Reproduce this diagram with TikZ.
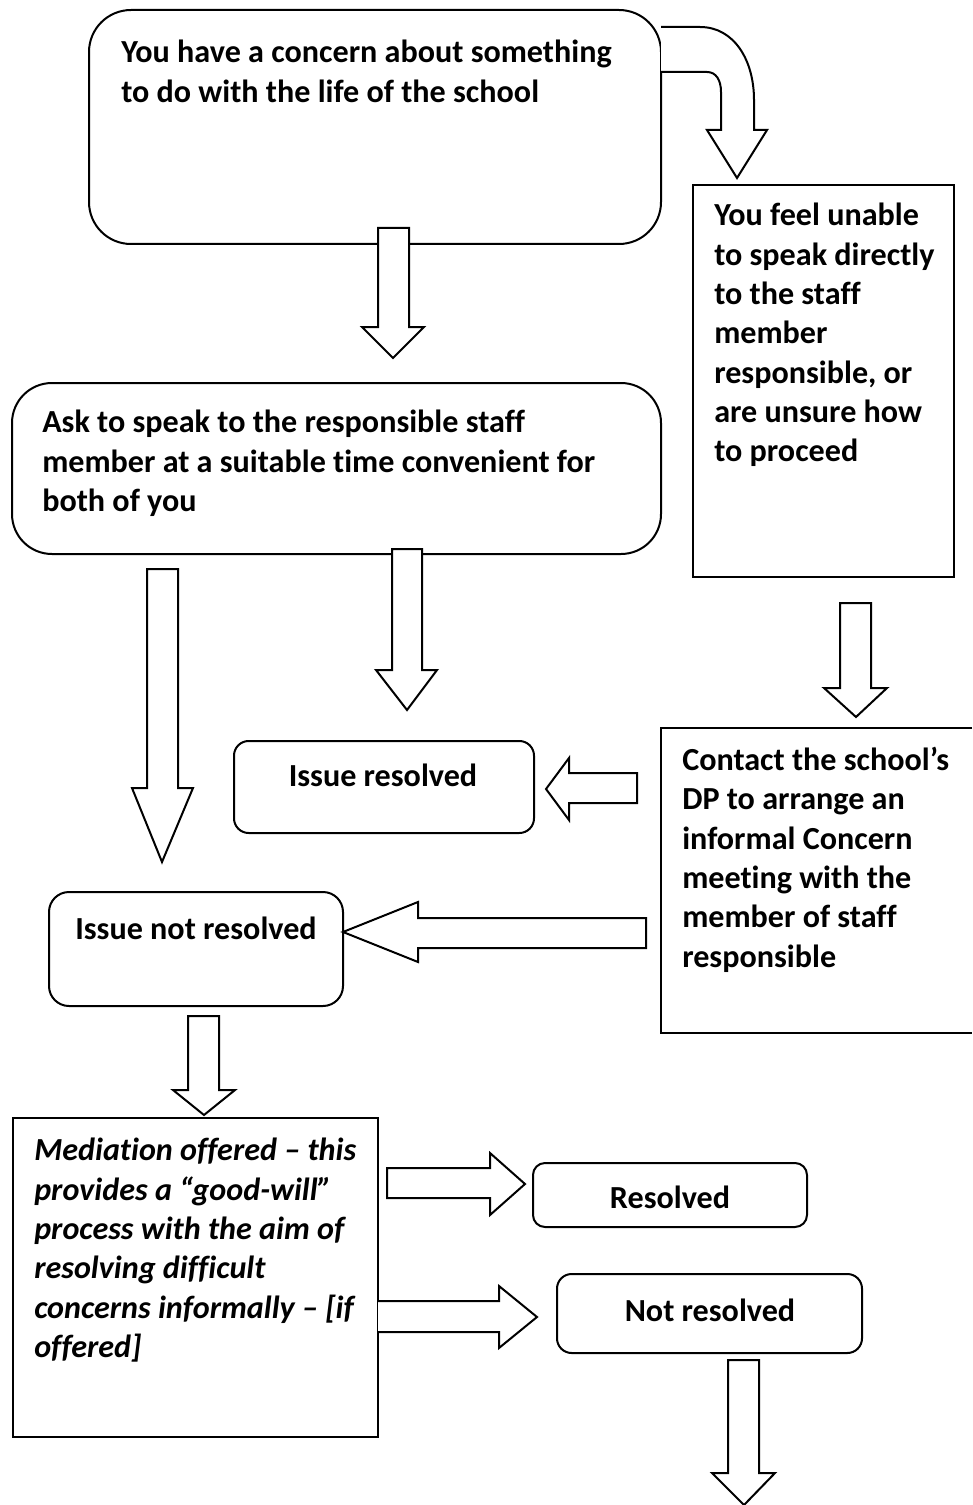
\documentclass[tikz,border=0pt]{standalone}
\usepackage{fontspec}
\setmainfont{Carlito}[Ligatures=CommonOff]

\begin{document}
\begin{tikzpicture}[x=0.75pt,y=0.75pt,yscale=-1,xscale=1,
    boxline/.style={line width=1.5pt},
    blockarrow/.style={line width=1.5pt,line join=miter,fill=white},
    boxtext/.style={anchor=north west,inner sep=0pt,align=left,font=\fontsize{24.1}{29.5}\selectfont\bfseries},
    labeltext/.style={inner sep=0pt,font=\fontsize{24.1}{29.5}\selectfont\bfseries}]
\useasboundingbox (0,0) rectangle (972,1505); %set diagram left start at 0, and has height of 1505

%Rounded Rect [id:concern]
\draw [boxline, rounded corners=31.5pt] (89,10) rectangle (661,244) ;
%Shape: Rectangle [id:unable]
\draw [boxline] (693,185) rectangle (954,577) ;
%Rounded Rect [id:ask]
\draw [boxline, rounded corners=30pt] (12,383) rectangle (661,554) ;
%Shape: Rectangle [id:contact] (runs off the right edge)
\draw [boxline] (972,728) -- (661,728) -- (661,1033) -- (972,1033) ;
%Rounded Rect [id:resolved]
\draw [boxline, rounded corners=11pt] (234,741) rectangle (534,833) ;
%Rounded Rect [id:notresolved]
\draw [boxline, rounded corners=15pt] (49,892) rectangle (343,1006) ;
%Shape: Rectangle [id:mediation]
\draw [boxline] (13,1118) rectangle (378,1437) ;
%Rounded Rect [id:finalres]
\draw [boxline, rounded corners=9pt] (533,1163) rectangle (807,1227) ;
%Rounded Rect [id:finalnot]
\draw [boxline, rounded corners=11pt] (557,1274) rectangle (862,1353) ;

%Curved Arrow [id:bend]
\draw [blockarrow] (661,27) -- (700,27) .. controls (734,27) and (754,60) .. (754,100) -- (754,130) -- (767,130) -- (737,178) -- (707,130) -- (721,130) -- (721,92) .. controls (721,80) and (716,72) .. (707,72) -- (661,72) ;
%Down Arrow [id:concerntoask]
\draw [blockarrow] (378,228) -- (409,228) -- (409,327) -- (424,327) -- (393,358) -- (362,327) -- (378,327) -- cycle ;
%Down Arrow [id:asktoresolved]
\draw [blockarrow] (392,549) -- (422,549) -- (422,670) -- (437,670) -- (407,710) -- (376,670) -- (392,670) -- cycle ;
%Down Arrow [id:asktonot]
\draw [blockarrow] (147,569) -- (178,569) -- (178,788) -- (193,788) -- (162,862) -- (132,788) -- (147,788) -- cycle ;
%Down Arrow [id:unabletocontact]
\draw [blockarrow] (840,603) -- (871,603) -- (871,688) -- (887,688) -- (856,717) -- (824,688) -- (840,688) -- cycle ;
%Left Arrow [id:contacttoresolved]
\draw [blockarrow] (637,773) -- (637,803) -- (569,803) -- (569,820) -- (546,789) -- (569,758) -- (569,773) -- cycle ;
%Left Arrow [id:contacttonot]
\draw [blockarrow] (646,918) -- (646,948) -- (418,948) -- (418,962) -- (343,932) -- (418,902) -- (418,918) -- cycle ;
%Down Arrow [id:nottomediation]
\draw [blockarrow] (188,1016) -- (219,1016) -- (219,1090) -- (235,1090) -- (204,1115) -- (173,1090) -- (188,1090) -- cycle ;
%Right Arrow [id:mediationtores]
\draw [blockarrow] (387,1168) -- (490,1168) -- (490,1153) -- (525,1184) -- (490,1215) -- (490,1198) -- (387,1198) -- cycle ;
%Right Arrow [id:mediationtonot]
\draw [blockarrow] (378,1301) -- (499,1301) -- (499,1286) -- (537,1317) -- (499,1348) -- (499,1332) -- (378,1332) ;
%Down Arrow [id:finaldown]
\draw [blockarrow] (728,1360) -- (759,1360) -- (759,1473) -- (775,1473) -- (744,1505) -- (712,1473) -- (728,1473) -- cycle ;

% Text Node
\node [boxtext] (concerntext) at (121,40) {You have a concern about something\\to do with the life of the school};
% Text Node
\node [boxtext] (unabletext) at (714,203) {You feel unable\\to speak directly\\to the staff\\member\\responsible, or\\are unsure how\\to proceed};
% Text Node
\node [boxtext] (asktext) at (42,410) {Ask to speak to the responsible staff\\member at a suitable time convenient for\\both of you};
% Text Node
\node [boxtext] (contacttext) at (682,747) {Contact the school’s\\DP to arrange an\\informal Concern\\meeting with the\\member of staff\\responsible};
% Text Node
\node [labeltext] (resolvedtext) at (383,775) {Issue resolved};
% Text Node
\node [labeltext] (nottext) at (196,928) {Issue not resolved};
% Text Node
\node [boxtext, font=\fontsize{24.1}{29.5}\selectfont\bfseries\itshape] (mediationtext) at (34,1138) {Mediation offered – this\\provides a “good-will”\\process with the aim of\\resolving difficult\\concerns informally – [if\\offered]};
% Text Node
\node [labeltext] (finalrestext) at (670,1197) {Resolved};
% Text Node
\node [labeltext] (finalnottext) at (710,1310) {Not resolved};

\end{tikzpicture}
\end{document}
